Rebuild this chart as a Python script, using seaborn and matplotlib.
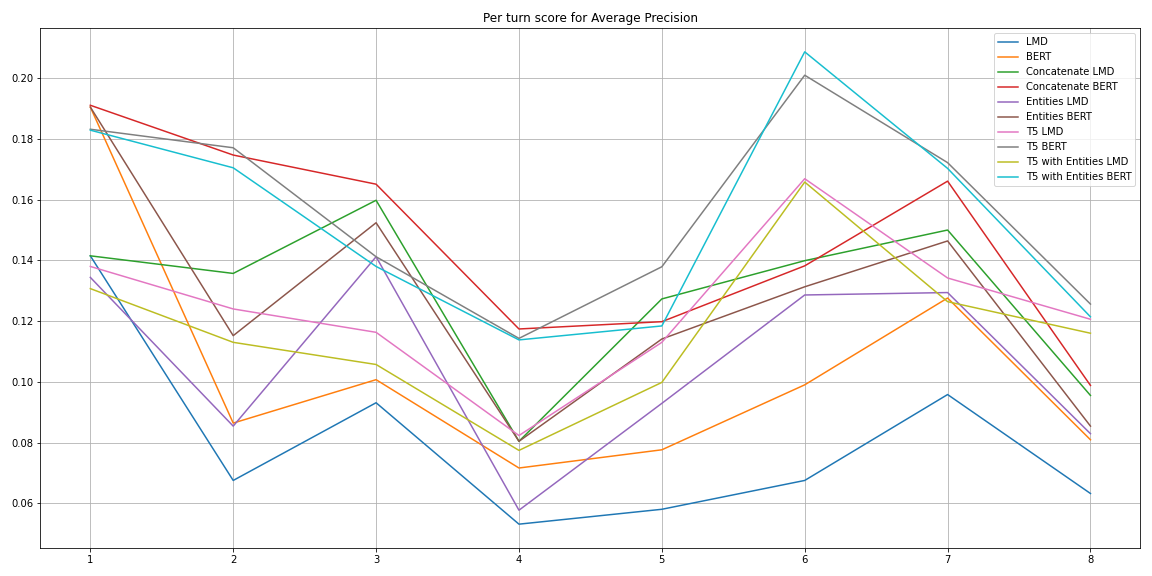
import matplotlib
matplotlib.use("Agg")
import matplotlib.pyplot as plt
import seaborn as sns

turns = [1, 2, 3, 4, 5, 6, 7, 8]
lmd = [0.1415, 0.0675, 0.0931, 0.0531, 0.0580, 0.0675, 0.0958, 0.0632]
bert = [0.1905, 0.0864, 0.1007, 0.0716, 0.0776, 0.0990, 0.1276, 0.0809]
concat_lmd = [0.1415, 0.1357, 0.1598, 0.0804, 0.1273, 0.1399, 0.1500, 0.0955]
concat_bert = [0.1911, 0.1747, 0.1651, 0.1174, 0.1198, 0.1382, 0.1661, 0.0988]
ent_lmd = [0.1344, 0.0854, 0.1412, 0.0577, 0.0929, 0.1286, 0.1294, 0.0829]
ent_bert = [0.1905, 0.1152, 0.1524, 0.0804, 0.1141, 0.1313, 0.1464, 0.0854]
t5_lmd = [0.1380, 0.1240, 0.1163, 0.0823, 0.1130, 0.1669, 0.1342, 0.1206]
t5_bert = [0.1832, 0.1771, 0.1412, 0.1143, 0.1379, 0.2010, 0.1722, 0.1256]
t5_ent_lmd = [0.1307, 0.1130, 0.1057, 0.0774, 0.0998, 0.1658, 0.1264, 0.1160]
t5_ent_bert = [0.1829, 0.1705, 0.1380, 0.1138, 0.1184, 0.2087, 0.1703, 0.1214]

names = ["LMD", "BERT", "Concatenate LMD", "Concatenate BERT", "Entities LMD",
         "Entities BERT", "T5 LMD", "T5 BERT", "T5 with Entities LMD",
         "T5 with Entities BERT"]
series = [lmd, bert, concat_lmd, concat_bert, ent_lmd, ent_bert, t5_lmd,
          t5_bert, t5_ent_lmd, t5_ent_bert]

plt.rcParams['font.family'] = ['DejaVu Sans']
fig, ax = plt.subplots(figsize=(16, 8), dpi=72)
palette = sns.color_palette("tab10", 10)
for name, vals, c in zip(names, series, palette):
    sns.lineplot(x=turns, y=vals, label=name, color=c, ax=ax, linewidth=1.5)

ax.set_title("Per turn score for Average Precision", fontsize=12)
ax.set_xticks(turns)
ax.grid(True, color="#b0b0b0", linewidth=0.8)
ax.legend(loc="upper right", fontsize=10)
fig.subplots_adjust(left=0.035, right=0.99, top=0.951, bottom=0.049)
fig.savefig("out.png", dpi=72, facecolor="white")
